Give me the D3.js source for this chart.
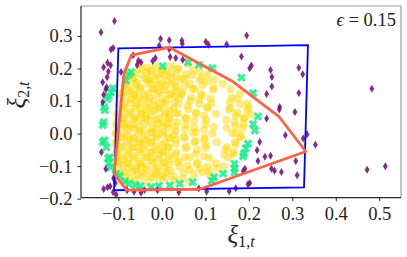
<!DOCTYPE html>
<html><head><meta charset="utf-8">
<script src="https://cdn.jsdelivr.net/npm/d3@7"></script>
<style>body{margin:0;background:#fff}svg{display:block}</style>
</head><body><svg id="c" width="407" height="257"></svg>
<script>
const xTicks = [-0.1, 0.0, 0.1, 0.2, 0.3, 0.4, 0.5];
const yTicks = [-0.2, -0.1, 0.0, 0.1, 0.2, 0.3];
const epsilonLabel = "0.15";

const boxRegion = [[-0.100,0.262],[0.336,0.272],[0.327,-0.165],[-0.110,-0.174]];
const hullRegion = [[0.017,0.265],[-0.070,0.241],[-0.087,0.185],[-0.110,-0.123],[-0.081,-0.174],[0.087,-0.171],[0.331,-0.055],[0.270,0.051],[0.164,0.159]];

const purplePoints = [
[-0.109,0.346],[-0.140,0.311],[-0.112,0.263],[-0.117,0.258],[-0.125,0.218],[-0.134,0.204],[-0.118,0.210],[-0.123,0.191],[-0.094,0.189],[-0.126,0.173],[-0.136,0.158],[-0.127,0.142],[-0.129,0.136],[-0.134,0.119],[-0.136,0.096],
[-0.066,0.241],[-0.054,0.224],[-0.048,0.219],[-0.057,0.211],[-0.021,0.223],[-0.015,0.232],[-0.003,0.291],[0.017,0.287],[0.046,0.286],[0.047,0.276],[-0.006,0.270],[0.019,0.235],[0.032,0.232],[0.048,0.227],[0.017,0.259],
[0.195,0.301],[0.101,0.282],[0.107,0.273],[0.149,0.274],[0.183,0.237],[0.202,0.201],[0.206,0.209],[0.250,0.195],[0.253,0.174],[0.253,0.145],[0.241,0.122],[0.315,0.202],[0.324,0.182],[0.315,0.125],[0.271,0.082],[0.270,0.074],[0.241,0.046],[0.306,0.066],[0.483,0.138],
[0.284,-0.005],[0.225,-0.026],[0.334,-0.002],[0.325,-0.015],[0.353,-0.034],[0.219,-0.051],[0.237,-0.071],[0.250,-0.068],[0.221,-0.084],[0.308,-0.084],[0.252,-0.108],[0.259,-0.114],[0.275,-0.118],[0.311,-0.128],[0.191,-0.108],[0.187,-0.115],[0.202,-0.152],[0.198,-0.156],[0.170,-0.168],[0.155,-0.177],[0.103,-0.178],[0.085,-0.169],[0.472,-0.111],[0.514,-0.100],
[-0.139,-0.057],[-0.129,-0.109],[-0.111,-0.138],[-0.107,-0.152],[-0.134,-0.170],[-0.125,-0.165],[-0.119,-0.162],[-0.105,-0.188],[-0.112,-0.180],[-0.080,-0.174],[-0.064,-0.179],[-0.048,-0.182],[-0.040,-0.173],[-0.010,-0.174],[0.039,-0.180]
];

const greenPoints = [
[0.002,0.207],[0.060,0.219],[0.085,0.211],[0.116,0.201],[-0.071,0.189],[-0.077,0.182],[-0.083,0.163],[-0.113,0.139],[-0.117,0.127],[-0.122,0.115],[-0.126,0.106],[-0.133,0.081],[-0.131,0.072],[-0.134,0.035],[-0.136,0.026],
[-0.136,-0.026],[-0.132,-0.021],[-0.128,-0.042],[-0.124,-0.076],[-0.120,-0.073],[-0.122,-0.091],[-0.118,-0.104],[-0.106,-0.124],[-0.097,-0.131],[-0.085,-0.147],[-0.076,-0.154],[-0.061,-0.158],[-0.049,-0.161],[-0.025,-0.164],[-0.007,-0.161],
[0.018,-0.159],[0.041,-0.154],[0.071,-0.149],[0.115,-0.145],[0.120,-0.134],[0.141,-0.123],[0.167,-0.119],[0.167,-0.107],[0.167,-0.093],[0.187,-0.070],[0.189,-0.061],[0.193,-0.045],[0.198,-0.031],[0.214,0.010],[0.210,0.029],[0.221,0.053],[0.210,0.124],[0.183,0.172]
];

const yellowPoints = [
[-0.049,0.211],[-0.033,0.202],[-0.014,0.206],[0.000,0.198],[0.021,0.209],[0.038,0.200],[0.060,0.213],
[-0.066,0.185],[-0.053,0.198],[-0.036,0.189],[-0.025,0.193],[-0.010,0.184],[0.009,0.192],[0.021,0.186],[0.035,0.197],[0.055,0.182],[0.071,0.195],[0.087,0.190],
[-0.075,0.177],[-0.064,0.171],[-0.048,0.182],[-0.034,0.167],[-0.024,0.180],[-0.006,0.175],[0.006,0.181],[0.021,0.172],[0.034,0.176],[0.053,0.168],[0.070,0.179],[0.091,0.170],[0.106,0.183],
[-0.081,0.153],[-0.067,0.164],[-0.057,0.155],[-0.040,0.168],[-0.027,0.159],[-0.016,0.163],[0.000,0.154],[0.012,0.162],[0.030,0.156],[0.045,0.167],[0.065,0.152],[0.087,0.165],[0.106,0.160],[0.122,0.166],
[-0.086,0.148],[-0.074,0.139],[-0.059,0.147],[-0.048,0.141],[-0.031,0.152],[-0.018,0.137],[-0.008,0.150],[0.008,0.145],[0.022,0.151],[0.034,0.142],[0.053,0.146],[0.076,0.138],[0.094,0.149],[0.120,0.140],[0.140,0.153],
[-0.090,0.127],[-0.074,0.131],[-0.063,0.123],[-0.050,0.134],[-0.032,0.125],[-0.022,0.138],[-0.007,0.129],[0.005,0.133],[0.022,0.124],[0.033,0.132],[0.047,0.126],[0.071,0.137],[0.090,0.122],[0.117,0.135],[0.158,0.136],
[-0.094,0.123],[-0.081,0.114],[-0.064,0.118],[-0.054,0.109],[-0.040,0.117],[-0.028,0.111],[-0.010,0.122],[0.001,0.107],[0.017,0.120],[0.030,0.115],[0.045,0.121],[0.067,0.112],[0.093,0.116],[0.112,0.108],[0.161,0.110],[0.180,0.123],
[-0.097,0.107],[-0.086,0.092],[-0.071,0.105],[-0.058,0.100],[-0.041,0.106],[-0.031,0.097],[-0.017,0.101],[-0.001,0.093],[0.011,0.104],[0.029,0.095],[0.040,0.108],[0.065,0.099],[0.085,0.103],[0.114,0.094],[0.156,0.096],[0.173,0.107],[0.196,0.092],
[-0.100,0.089],[-0.086,0.080],[-0.074,0.093],[-0.058,0.084],[-0.048,0.088],[-0.031,0.079],[-0.018,0.087],[-0.007,0.081],[0.008,0.092],[0.026,0.077],[0.038,0.090],[0.059,0.085],[0.086,0.091],[0.104,0.082],[0.158,0.078],[0.180,0.089],[0.199,0.080],
[-0.101,0.064],[-0.089,0.072],[-0.073,0.066],[-0.062,0.077],[-0.048,0.062],[-0.035,0.075],[-0.018,0.070],[-0.008,0.076],[0.007,0.067],[0.019,0.071],[0.038,0.063],[0.061,0.074],[0.079,0.065],[0.105,0.078],[0.154,0.073],[0.174,0.064],[0.196,0.072],
[-0.102,0.056],[-0.087,0.048],[-0.076,0.059],[-0.063,0.050],[-0.047,0.063],[-0.037,0.054],[-0.023,0.058],[-0.006,0.049],[0.006,0.057],[0.017,0.051],[0.033,0.062],[0.053,0.047],[0.078,0.060],[0.097,0.055],[0.124,0.061],[0.170,0.056],[0.188,0.048],[0.204,0.059],
[-0.104,0.036],[-0.091,0.047],[-0.081,0.032],[-0.064,0.045],[-0.052,0.040],[-0.037,0.046],[-0.026,0.037],[-0.012,0.041],[0.004,0.033],[0.017,0.044],[0.035,0.035],[0.057,0.048],[0.074,0.039],[0.102,0.043],[0.148,0.042],[0.167,0.036],[0.190,0.047],
[-0.105,0.024],[-0.089,0.028],[-0.077,0.019],[-0.067,0.027],[-0.052,0.021],[-0.039,0.032],[-0.022,0.017],[-0.011,0.030],[0.003,0.025],[0.015,0.031],[0.031,0.022],[0.055,0.026],[0.074,0.018],[0.100,0.029],[0.120,0.020],[0.169,0.024],[0.188,0.028],
[-0.105,0.002],[-0.094,0.015],[-0.080,0.010],[-0.063,0.016],[-0.051,0.007],[-0.041,0.011],[-0.025,0.003],[-0.012,0.014],[0.003,0.005],[0.014,0.018],[0.032,0.009],[0.053,0.013],[0.079,0.004],[0.097,0.012],[0.149,0.017],[0.169,0.002],[0.185,0.015],
[-0.106,0.001],[-0.092,-0.008],[-0.080,-0.004],[-0.064,-0.012],[-0.053,-0.001],[-0.040,-0.010],[-0.023,0.003],[-0.013,-0.006],[0.002,-0.002],[0.016,-0.011],[0.028,-0.003],[0.051,-0.009],[0.071,0.002],[0.098,-0.013],[0.116,0.000],[0.162,0.001],[0.183,-0.008],
[-0.105,-0.025],[-0.093,-0.012],[-0.076,-0.021],[-0.066,-0.017],[-0.052,-0.026],[-0.036,-0.018],[-0.025,-0.024],[-0.012,-0.013],[0.006,-0.028],[0.018,-0.015],[0.033,-0.020],[0.052,-0.014],[0.077,-0.023],[0.098,-0.019],[0.126,-0.027],[0.168,-0.025],[0.180,-0.012],
[-0.106,-0.033],[-0.091,-0.039],[-0.081,-0.028],[-0.068,-0.043],[-0.051,-0.030],[-0.039,-0.035],[-0.025,-0.029],[-0.014,-0.038],[0.002,-0.034],[0.015,-0.042],[0.032,-0.031],[0.056,-0.040],[0.075,-0.027],[0.101,-0.036],[0.150,-0.041],[0.170,-0.033],
[-0.105,-0.057],[-0.094,-0.046],[-0.078,-0.055],[-0.066,-0.042],[-0.052,-0.051],[-0.042,-0.047],[-0.025,-0.056],[-0.012,-0.048],[0.003,-0.054],[0.015,-0.043],[0.033,-0.058],[0.055,-0.045],[0.081,-0.050],[0.101,-0.044],[0.146,-0.049],[0.166,-0.057],
[-0.105,-0.062],[-0.092,-0.071],[-0.077,-0.063],[-0.066,-0.069],[-0.050,-0.058],[-0.038,-0.073],[-0.024,-0.060],[-0.007,-0.065],[0.003,-0.059],[0.016,-0.068],[0.032,-0.064],[0.053,-0.072],[0.078,-0.061],[0.097,-0.070],[0.144,-0.066],[0.163,-0.062],
[-0.104,-0.083],[-0.088,-0.079],[-0.077,-0.087],[-0.063,-0.076],[-0.051,-0.085],[-0.034,-0.072],[-0.024,-0.081],[-0.009,-0.077],[0.004,-0.086],[0.020,-0.078],[0.040,-0.084],[0.064,-0.073],[0.082,-0.088],[0.109,-0.075],[0.153,-0.074],
[-0.103,-0.087],[-0.091,-0.096],[-0.077,-0.092],[-0.060,-0.101],[-0.049,-0.093],[-0.036,-0.099],[-0.020,-0.088],[-0.010,-0.103],[0.005,-0.090],[0.017,-0.095],[0.036,-0.089],[0.059,-0.098],[0.080,-0.094],[0.106,-0.102],[0.124,-0.091],[0.142,-0.100],
[-0.101,-0.103],[-0.087,-0.118],[-0.076,-0.105],[-0.060,-0.110],[-0.047,-0.104],[-0.035,-0.113],[-0.018,-0.109],[-0.008,-0.117],[0.007,-0.106],[0.021,-0.115],[0.041,-0.102],[0.063,-0.111],[0.088,-0.107],[0.107,-0.116],[0.126,-0.108],
[-0.097,-0.121],[-0.084,-0.130],[-0.068,-0.117],[-0.057,-0.126],[-0.043,-0.122],[-0.026,-0.131],[-0.014,-0.123],[0.001,-0.129],[0.011,-0.118],[0.029,-0.133],[0.050,-0.120],[0.074,-0.125],[0.094,-0.119],[0.112,-0.128],
[-0.089,-0.146],[-0.074,-0.138],[-0.062,-0.144],[-0.046,-0.133],[-0.033,-0.148],[-0.019,-0.135],[-0.002,-0.140],[0.009,-0.134],[0.028,-0.143],[0.048,-0.139],[0.064,-0.147]
];

const L = 81, R = 401, T = 6, B = 197.7;
const svg = d3.select("#c");
const x = d3.scaleLinear().domain([-0.186, 0.550]).range([L, R]);
const y = d3.scaleLinear().domain([-0.197, 0.392]).range([B, T]);
const serif = "'Liberation Serif','Times New Roman',serif";

const plot = svg.append("g");
plot.append("g").selectAll("circle").data(yellowPoints).join("circle")
  .attr("cx", d => x(d[0])).attr("cy", d => y(d[1])).attr("r", 4)
  .attr("fill", "#FFD700").attr("fill-opacity", 0.5);

// filled X marker: plus shape rotated 45 degrees
function xMarker(u) {
  const e = 3 * u, w = u;
  const pts = [[-w,-e],[w,-e],[w,-w],[e,-w],[e,w],[w,w],[w,e],[-w,e],[-w,w],[-e,w],[-e,-w],[-w,-w]];
  return "M" + pts.map(p => p.join(",")).join("L") + "Z";
}
plot.append("g").selectAll("path").data(greenPoints).join("path")
  .attr("transform", d => `translate(${x(d[0])},${y(d[1])}) rotate(45)`)
  .attr("d", xMarker(1.55)).attr("fill", "#14EE88").attr("fill-opacity", 0.85);

plot.append("g").selectAll("path").data(purplePoints).join("path")
  .attr("transform", d => `translate(${x(d[0])},${y(d[1])})`)
  .attr("d", "M0,-4 L2.4,0 L0,4 L-2.4,0 Z").attr("fill", "#7A137E").attr("fill-opacity", 0.9);

const line = d3.line().x(d => x(d[0])).y(d => y(d[1])).curve(d3.curveLinearClosed);
plot.append("path").attr("d", line(boxRegion)).attr("fill", "none").attr("stroke", "#0000FF").attr("stroke-width", 1.8).attr("stroke-linejoin", "miter");
plot.append("path").attr("d", line(hullRegion)).attr("fill", "none").attr("stroke", "#FF6347").attr("stroke-width", 2.8).attr("stroke-linejoin", "round");

// spines
svg.append("line").attr("x1", L).attr("x2", R).attr("y1", T).attr("y2", T).attr("stroke", "#999").attr("stroke-width", 1.2);
svg.append("line").attr("x1", R).attr("x2", R).attr("y1", T).attr("y2", B).attr("stroke", "#999").attr("stroke-width", 1.2);
svg.append("line").attr("x1", L).attr("x2", R).attr("y1", B).attr("y2", B).attr("stroke", "#262626").attr("stroke-width", 1.2);
svg.append("line").attr("x1", L).attr("x2", L).attr("y1", T).attr("y2", B+0.6).attr("stroke", "#262626").attr("stroke-width", 1.2);

const fmt = v => (v < 0 ? "\u2212" : "") + Math.abs(v).toFixed(1);
const xa = svg.append("g").attr("transform", `translate(0,${B})`)
  .call(d3.axisBottom(x).tickValues(xTicks).tickFormat(fmt).tickSize(3.5).tickPadding(6));
const ya = svg.append("g").attr("transform", `translate(${L},0)`)
  .call(d3.axisLeft(y).tickValues(yTicks).tickFormat(fmt).tickSize(3.5).tickPadding(5));
[xa, ya].forEach(a => {
  a.select(".domain").remove();
  a.selectAll("line").attr("stroke", "#262626").attr("stroke-width", 1);
  a.selectAll("text").attr("font-family", serif).attr("font-size", 18.5).attr("fill", "#222");
});

// epsilon annotation
const eps = svg.append("text").attr("x", 396).attr("y", 26).attr("text-anchor", "end")
  .attr("font-family", serif).attr("font-size", 18.5).attr("fill", "#222");
eps.append("tspan").attr("font-style", "italic").text("\u03F5");
eps.append("tspan").text(" = " + epsilonLabel);

// axis labels
const xl = svg.append("text").attr("x", 241).attr("y", 243).attr("text-anchor", "middle")
  .attr("font-family", serif).attr("font-size", 25).attr("fill", "#222");
xl.append("tspan").attr("font-style", "italic").text("\u03BE");
xl.append("tspan").attr("font-size", 16).attr("dy", 4).text("1,");
xl.append("tspan").attr("font-size", 16).attr("font-style", "italic").text("t");

const yl = svg.append("text").attr("transform", "translate(25,95) rotate(-90)").attr("text-anchor", "middle")
  .attr("font-family", serif).attr("font-size", 25).attr("fill", "#222");
yl.append("tspan").attr("font-style", "italic").text("\u03BE");
yl.append("tspan").attr("font-size", 16).attr("dy", 4).text("2,");
yl.append("tspan").attr("font-size", 16).attr("font-style", "italic").text("t");
</script></body></html>
